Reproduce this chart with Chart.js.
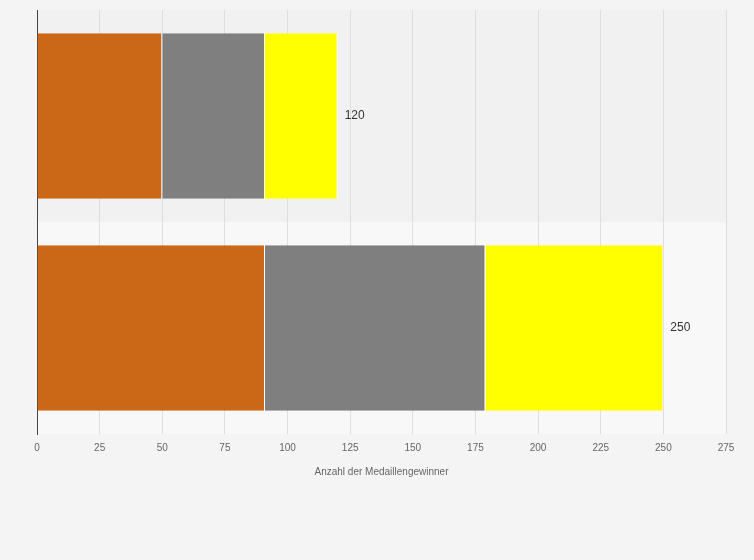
<!DOCTYPE html>
<html>
<head>
<meta charset="utf-8">
<script src="https://cdn.jsdelivr.net/npm/chart.js@4"></script>
<style>
  html, body { margin: 0; padding: 0; background: #f4f4f4; }
  #wrap { width: 754px; height: 560px; }
</style>
</head>
<body>
<div id="wrap"><canvas id="grafica"></canvas></div>
<script>
const kategorien = ['Gruppe 1', 'Gruppe 2'];
const bronze = [50, 91];
const silber = [41, 88];
const gold = [29, 71];
const xTicks = [0, 25, 50, 75, 100, 125, 150, 175, 200, 225, 250, 275];

const farben = { bronze: '#cb6817', silber: '#7f7f7f', gold: '#ffff00' };

// Hintergrund-Streifen je Kategorie
const streifen = {
  id: 'streifen',
  beforeDraw(chart) {
    const { ctx, chartArea: a, scales: { y } } = chart;
    ctx.save();
    kategorien.forEach((k, i) => {
      const c = y.getPixelForValue(i);
      const h = (a.bottom - a.top) / kategorien.length;
      ctx.fillStyle = i % 2 === 0 ? '#f1f1f1' : '#f8f8f8';
      ctx.fillRect(a.left, c - h / 2, a.right - a.left, h);
    });
    ctx.restore();
  }
};

// Summen rechts neben den Balken
const summen = {
  id: 'summen',
  afterDatasetsDraw(chart) {
    const { ctx, scales: { x, y } } = chart;
    ctx.save();
    ctx.font = '12px "Liberation Sans", Arial, sans-serif';
    ctx.fillStyle = '#333';
    ctx.textBaseline = 'middle';
    kategorien.forEach((k, i) => {
      const total = bronze[i] + silber[i] + gold[i];
      ctx.fillText(String(total), x.getPixelForValue(total) + 7, y.getPixelForValue(i));
    });
    ctx.restore();
  }
};

const mk = (label, data, color) => ({
  label, data, backgroundColor: color,
  borderColor: '#ffffff',
  borderWidth: { left: 0, right: 1, top: 0, bottom: 0 },
  borderSkipped: false,
  categoryPercentage: 0.78, barPercentage: 1
});

new Chart(document.getElementById('grafica').getContext('2d'), {
  type: 'bar',
  data: {
    labels: kategorien,
    datasets: [
      mk('Bronze', bronze, farben.bronze),
      mk('Silber', silber, farben.silber),
      mk('Gold', gold, farben.gold)
    ]
  },
  options: {
    indexAxis: 'y',
    responsive: true,
    maintainAspectRatio: false,
    animation: false,
    layout: { padding: { left: 29, right: 28, top: 10, bottom: 78 } },
    plugins: { legend: { display: false }, tooltip: { enabled: false } },
    scales: {
      x: {
        stacked: true, min: 0, max: 275,
        afterBuildTicks: s => { s.ticks = xTicks.map(v => ({ value: v })); },
        grid: { color: '#dedede', drawTicks: false },
        border: { display: false },
        ticks: { color: '#666', font: { size: 10, family: '"Liberation Sans", Arial, sans-serif' }, padding: 8 },
        title: { display: true, text: 'Anzahl der Medaillengewinner', color: '#666',
                 font: { size: 10, family: '"Liberation Sans", Arial, sans-serif' }, padding: { top: 4 } }
      },
      y: {
        stacked: true,
        grid: { display: false },
        ticks: { display: false },
        border: { color: '#444', width: 1 }
      }
    }
  },
  plugins: [streifen, summen]
});
</script>
</body>
</html>
